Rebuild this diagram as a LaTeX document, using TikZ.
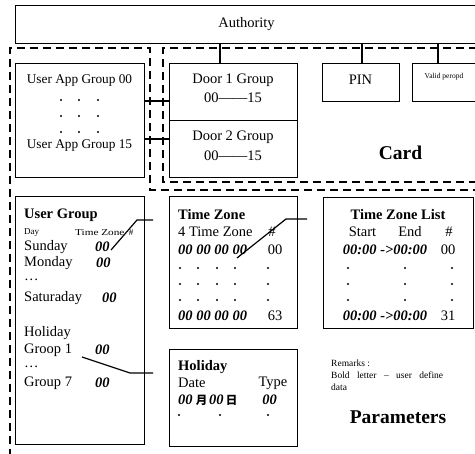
\documentclass[tikz,border=0pt]{standalone}
\usepackage{fontspec}
\setmainfont{Liberation Serif}
\newfontfamily\cjk{Noto Sans CJK SC}
\newcommand{\fs}[1]{\fontsize{#1}{#1}\selectfont}
\begin{document}
\begin{tikzpicture}[x=1pt,y=-1pt,
  box/.style={draw, line width=1.4pt, inner sep=0pt, anchor=north west},
  dbox/.style={draw, line width=1.4pt, dash pattern=on 8pt off 5pt},
  conn/.style={draw, line width=1.2pt},
  txt/.style={inner sep=0pt, font=\fs{14.5}},
  small/.style={inner sep=0pt, font=\fs{9}},
  bi/.style={inner sep=0pt, font=\fs{14.5}\bfseries\itshape},
  hd/.style={inner sep=0pt, font=\fs{14.5}\bfseries},
  big/.style={inner sep=0pt, font=\fs{19.5}\bfseries},
  cj/.style={inner sep=0pt, font=\cjk\bfseries\fs{11.5}},
  dot/.style={fill=black}]
\clip (0,0) rectangle (475,454);
\fill[white] (0,0) rectangle (475,454);

% dashed group outlines
\draw[dbox] (10,470) -- (10,48) -- (150,48) -- (150,190) -- (490,190);
\draw[dbox] (490,182) -- (163,182) -- (163,48) -- (490,48);

% Authority
\node[box, minimum width=463pt, minimum height=38pt] (auth) at (15,5) {};
\node[txt] (autht) at (246.5,24) {Authority};

% top boxes
\node[box, minimum width=129pt, minimum height=114pt] (ua) at (15,63) {};
\node[txt, font=\fs{13.3}] (ua1) at (79.5,80) {User App Group 00};
\node[txt, font=\fs{13.3}] (ua2) at (79.5,146) {User App Group 15};
\foreach \yy in {100,116,132}{\foreach \xx in {61,79,98}{\fill[dot] (\xx,\yy) circle (1.1pt);}}

\node[box, minimum width=128pt, minimum height=57pt] (d1) at (169,63) {};
\node[box, minimum width=128pt, minimum height=57pt] (d2) at (169,120) {};
\node[txt] (d1a) at (233,80) {Door 1 Group};
\node[txt] (d1b) at (233,98) {00——15};
\node[txt] (d2a) at (233,137) {Door 2 Group};
\node[txt] (d2b) at (233,156) {00——15};

\node[box, minimum width=77pt, minimum height=38pt] (pin) at (322,63) {};
\node[txt] (pint) at (360.5,80) {PIN};
\node[box, minimum width=80pt, minimum height=38pt] (vp) at (412,63) {};
\node[inner sep=0pt, font=\fs{7.5}] (vpt) at (444,77) {Valid peropd};

\node[big] (card) at (400.5,153) {Card};

% connectors from Authority
\coordinate (x1) at (220,0);
\coordinate (x2) at (362,0);
\coordinate (x3) at (438,0);
\draw[conn] (x1 |- auth.south) -- (x1 |- d1.north);
\draw[conn] (x2 |- auth.south) -- (x2 |- pin.north);
\draw[conn] (x3 |- auth.south) -- (x3 |- vp.north);
% connectors user app -> door groups
\draw[conn] (ua.east |- 0,101) -- (d1.west |- 0,101);
\draw[conn] (ua.east |- 0,139) -- (d2.west |- 0,139);

% User Group
\node[box, minimum width=129pt, minimum height=248pt] (ug) at (15,196) {};
\node[hd, anchor=west] (ugt) at (24,215) {User Group};
\node[small, anchor=west] (ugday) at (24,233) {Day};
\node[small, anchor=west] (ugtz) at (75,233) {\scalebox{1.25}[1]{Time Zone}};
\node[small] (ughash) at (131,233) {\#};
\node[txt, anchor=west] (sun) at (24,247) {Sunday};
\node[bi, anchor=west] (sun0) at (95,247) {00};
\node[txt, anchor=west] (mon) at (24,263) {Monday};
\node[bi, anchor=west] (mon0) at (96,263) {00};
\node[txt, anchor=west] (ell1) at (24,280) {…};
\node[txt, anchor=west] (sat) at (24,298) {Saturaday};
\node[bi, anchor=west] (sat0) at (102,298) {00};
\node[txt, anchor=west] (hol) at (24,333) {Holiday};
\node[txt, anchor=west] (g1) at (24,350) {Groop 1};
\node[bi, anchor=west] (g10) at (95,350) {00};
\node[txt, anchor=west] (ell2) at (24,367) {…};
\node[txt, anchor=west] (g7) at (24,383) {Group 7};
\node[bi, anchor=west] (g70) at (95,383) {00};

% Time Zone
\node[box, minimum width=128pt, minimum height=132pt] (tz) at (169,196) {};
\node[hd, anchor=west] (tzt) at (178,215) {Time Zone};
\node[txt, anchor=west] (tz4) at (178,232) {4 Time Zone};
\node[txt] (tzh) at (272,232) {\#};
\node[bi, anchor=west] (tzr1) at (178,250) {00 00 00 00};
\node[txt] (tzn1) at (275,250) {00};
\foreach \yy in {268,284,300}{\foreach \xx in {180,198,217,235,268}{\fill[dot] (\xx,\yy) circle (1.1pt);}}
\node[bi, anchor=west] (tzr2) at (178,316) {00 00 00 00};
\node[txt] (tzn2) at (275,316) {63};

% Time Zone List
\node[box, minimum width=150pt, minimum height=131pt] (tzl) at (323,197) {};
\node[hd] (tzlt) at (398,215) {Time Zone List};
\node[txt] (tzls) at (362.5,232) {Start};
\node[txt] (tzle) at (410,232) {End};
\node[txt] (tzlh) at (449,232) {\#};
\node[bi] (tzlr1) at (385,250) {00:00 ->00:00};
\node[txt] (tzln1) at (448,250) {00};
\foreach \yy in {268,284,300}{\foreach \xx in {348,405,452}{\fill[dot] (\xx,\yy) circle (1.1pt);}}
\node[bi] (tzlr2) at (385,316) {00:00 ->00:00};
\node[txt] (tzln2) at (448,316) {31};

% Holiday
\node[box, minimum width=128pt, minimum height=97pt] (hd) at (169,349) {};
\node[hd, anchor=west] (hdt) at (178,367) {Holiday};
\node[txt, anchor=west] (hdd) at (178,383) {Date};
\node[txt] (hdty) at (273,383) {Type};
\node[bi, anchor=west] (hdm0) at (178,400) {00};
\node[cj] (hdm) at (201.5,400) {月};
\node[bi, anchor=west] (hdd0) at (209,400) {00};
\node[cj] (hdday) at (231.5,400) {日};
\node[bi] (hdn) at (269.5,400) {00};
\foreach \xx in {179,220,268}{\fill[dot] (\xx,415) circle (1.1pt);}

% Remarks
\node[inner sep=0pt, anchor=west, font=\fs{9.5}] (rm1) at (331,363) {Remarks :};
\node[inner sep=0pt, anchor=west, font=\fs{9.5}] (rm2) at (331,375) {\makebox[112pt][s]{Bold letter – user define}};
\node[inner sep=0pt, anchor=west, font=\fs{9.5}] (rm3) at (331,387) {data};
\node[big] (par) at (398,417) {Parameters};

% diagonal leader lines
\coordinate (l1a) at (111,250); \coordinate (l1b) at (137,220); \coordinate (l1c) at (153,220);
\draw[conn] (l1a) -- (l1b) -- (l1c);
\coordinate (l2a) at (82,357); \coordinate (l2b) at (130,373); \coordinate (l2c) at (153,373);
\draw[conn] (l2a) -- (l2b) -- (l2c);
\coordinate (l3a) at (237,258); \coordinate (l3b) at (286,219); \coordinate (l3c) at (307,219);
\draw[conn] (l3a) -- (l3b) -- (l3c);
\end{tikzpicture}
\end{document}
